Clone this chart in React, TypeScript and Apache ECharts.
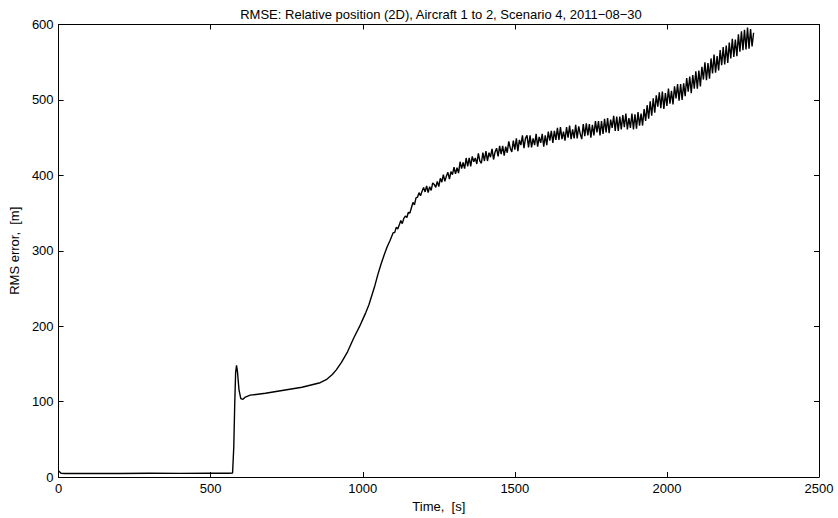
import React, { useEffect, useRef } from "react";
import * as echarts from "echarts";

const titleText = "RMSE: Relative position (2D), Aircraft 1 to 2, Scenario 4, 2011\u221208\u221230";
const xName = "Time,  [s]";
const yName = "RMS error,  [m]";
const xTicks = [0, 500, 1000, 1500, 2000, 2500];
const yTicks = [0, 100, 200, 300, 400, 500, 600];

// early, smooth segment (time [s], RMS error [m])
const timesA = [0, 3, 8, 20, 100, 200, 300, 400, 500, 560, 572, 576, 579, 582, 585, 588, 593, 599, 606, 614, 630, 680, 740, 800, 860, 880, 900, 913, 930, 950, 970, 990, 1000, 1010, 1020, 1030, 1040, 1050, 1060, 1070, 1080, 1090];
const valuesA = [8, 7, 5, 4.6, 4.8, 4.7, 4.9, 4.8, 5, 5, 5.2, 40, 95, 138, 148, 140, 116, 104, 103, 106, 108.5, 111, 115, 119, 125, 129, 136, 142, 152, 166, 184, 200, 209, 218, 228, 241, 254, 269, 282, 294, 305, 314];

// noisy segment, one sample every 5 s starting at 1100 s
const noisyStart = 1100;
const noisyStep = 5;
const valuesB = [
  324, 324, 331, 329, 334, 340, 336, 343, 346, 344,
  351, 350, 357, 364, 361, 370, 371, 377, 373, 379,
  384, 378, 386, 377, 385, 380, 390, 388, 384, 392,
  385, 396, 391, 401, 392, 399, 404, 395, 405, 401,
  411, 402, 410, 403, 418, 409, 417, 409, 423, 412,
  423, 412, 425, 418, 423, 415, 429, 419, 416, 430,
  419, 432, 419, 430, 424, 435, 421, 431, 436, 425,
  439, 428, 439, 426, 438, 430, 445, 436, 431, 446,
  434, 449, 432, 447, 440, 453, 436, 449, 453, 437,
  453, 437, 449, 440, 455, 438, 451, 443, 455, 438,
  453, 440, 458, 446, 459, 443, 459, 447, 463, 447,
  464, 448, 458, 446, 464, 450, 466, 448, 461, 449,
  467, 449, 465, 455, 448, 468, 452, 469, 453, 468,
  450, 467, 453, 472, 457, 472, 453, 472, 455, 475,
  457, 476, 456, 474, 463, 479, 459, 478, 459, 478,
  461, 480, 464, 482, 461, 476, 463, 482, 461, 481,
  462, 484, 466, 482, 466, 488, 472, 493, 475, 498,
  479, 502, 483, 506, 491, 510, 489, 511, 488, 509,
  492, 515, 495, 512, 494, 518, 502, 521, 499, 521,
  500, 522, 505, 529, 511, 531, 509, 533, 515, 538,
  515, 539, 518, 544, 527, 550, 526, 549, 528, 555,
  535, 560, 536, 558, 539, 566, 546, 570, 547, 572,
  549, 576, 555, 581, 557, 580, 558, 587, 564, 591,
  566, 593, 567, 596, 568, 594, 571, 589,
];

const FONT = "Liberation Sans";

export default function App() {
  const ref = useRef<HTMLDivElement>(null);
  useEffect(() => {
    document.body.style.margin = "0";
    if (!ref.current) return;
    const chart = echarts.init(ref.current, null, { renderer: "svg" });
    const data: [number, number][] = [];
    timesA.forEach((t, i) => data.push([t, valuesA[i]]));
    valuesB.forEach((v, i) => data.push([noisyStart + i * noisyStep, v]));
    const axisCommon = {
      axisLine: { show: true, onZero: false, lineStyle: { color: "#000", width: 1 } },
      axisTick: { show: true, inside: true, length: 5, lineStyle: { color: "#000" } },
      splitLine: { show: false },
    };
    const fmt = (v: number) => String(v);
    chart.setOption({
      animation: false,
      backgroundColor: "#fff",
      title: {
        text: titleText,
        left: 436,
        textAlign: "center",
        top: 3,
        textStyle: { fontFamily: FONT, fontSize: 13, fontWeight: "normal", color: "#000" },
      },
      grid: { left: 53.5, right: 19, top: 24.5, bottom: 41, show: false },
      xAxis: [
        {
          type: "value",
          min: xTicks[0],
          max: xTicks[xTicks.length - 1],
          interval: xTicks[1] - xTicks[0],
          position: "bottom",
          name: xName,
          nameLocation: "middle",
          nameGap: 19,
          nameTextStyle: { fontFamily: FONT, fontSize: 13, color: "#000" },
          axisLabel: { fontFamily: FONT, fontSize: 13, color: "#000", margin: 5, formatter: fmt },
          ...axisCommon,
        },
        {
          type: "value",
          min: xTicks[0],
          max: xTicks[xTicks.length - 1],
          interval: xTicks[1] - xTicks[0],
          position: "top",
          axisLabel: { show: false },
          ...axisCommon,
        },
      ],
      yAxis: [
        {
          type: "value",
          min: yTicks[0],
          max: yTicks[yTicks.length - 1],
          interval: yTicks[1] - yTicks[0],
          position: "left",
          name: yName,
          nameLocation: "middle",
          nameGap: 33,
          nameTextStyle: { fontFamily: FONT, fontSize: 13, color: "#000" },
          axisLabel: { fontFamily: FONT, fontSize: 13, color: "#000", margin: 5, formatter: fmt },
          ...axisCommon,
        },
        {
          type: "value",
          min: yTicks[0],
          max: yTicks[yTicks.length - 1],
          interval: yTicks[1] - yTicks[0],
          position: "right",
          axisLabel: { show: false },
          ...axisCommon,
        },
      ],
      series: [
        {
          type: "line",
          data,
          showSymbol: false,
          symbol: "none",
          lineStyle: { color: "#000", width: 1.4 },
          xAxisIndex: 0,
          yAxisIndex: 0,
        },
      ],
    });
    return () => chart.dispose();
  }, []);
  return <div ref={ref} style={{ width: 838, height: 518 }} />;
}
